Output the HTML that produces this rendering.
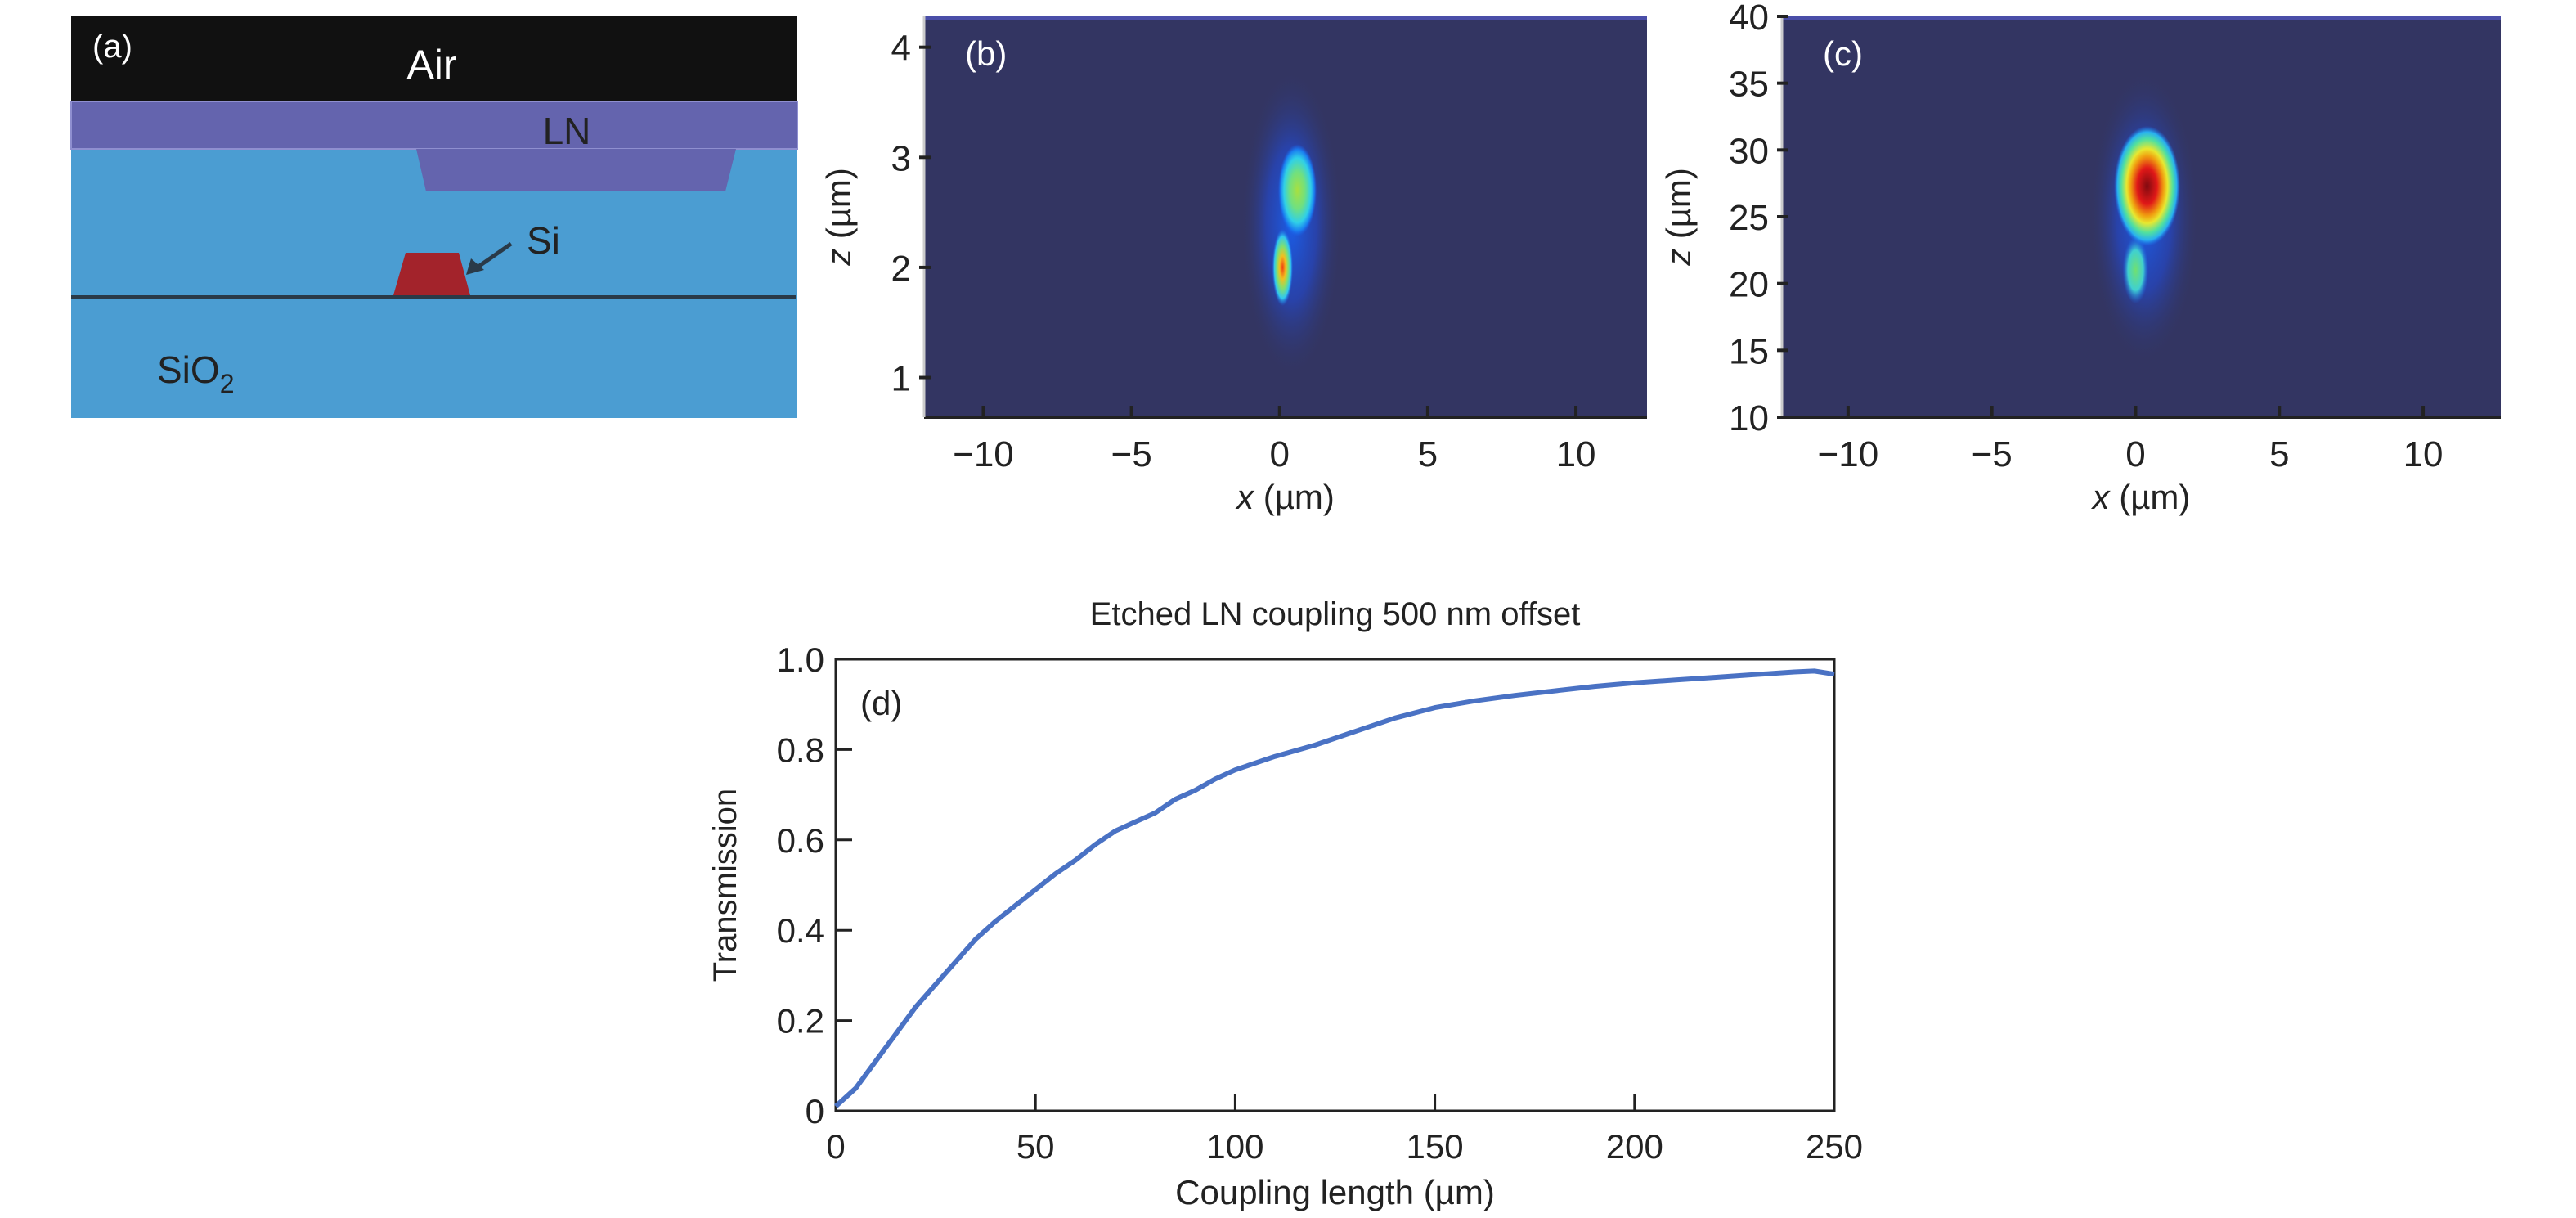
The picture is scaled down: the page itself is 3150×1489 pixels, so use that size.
<!DOCTYPE html>
<html><head><meta charset="utf-8">
<style>
html,body{margin:0;padding:0;background:#fff;}
svg{display:block;font-family:"Liberation Sans",sans-serif;}
</style></head>
<body>
<svg id="fig" width="3150" height="1489" viewBox="0 0 3150 1489" xmlns="http://www.w3.org/2000/svg">
<defs>
  <radialGradient id="gHalo"><stop offset="0" stop-color="#1a5ee8" stop-opacity="1"/><stop offset="0.5" stop-color="#2448c8" stop-opacity="0.7"/><stop offset="1" stop-color="#333562" stop-opacity="0"/></radialGradient>
  <radialGradient id="gGreen"><stop offset="0" stop-color="#a8e040"/><stop offset="0.4" stop-color="#70e080"/><stop offset="0.7" stop-color="#30d0e8"/><stop offset="0.88" stop-color="#1a7ef0"/><stop offset="1" stop-color="#1a5ee8" stop-opacity="0"/></radialGradient>
  <radialGradient id="gOrange"><stop offset="0" stop-color="#f04010"/><stop offset="0.3" stop-color="#f0c020"/><stop offset="0.55" stop-color="#80e070"/><stop offset="0.8" stop-color="#30c8f0"/><stop offset="1" stop-color="#1a6ef0" stop-opacity="0"/></radialGradient>
  <radialGradient id="gRed"><stop offset="0" stop-color="#800a10"/><stop offset="0.3" stop-color="#e01818"/><stop offset="0.5" stop-color="#f0a010"/><stop offset="0.62" stop-color="#e8e830"/><stop offset="0.78" stop-color="#50e0a0"/><stop offset="0.9" stop-color="#28b0f0"/><stop offset="1" stop-color="#1a6ef0" stop-opacity="0"/></radialGradient>
  <radialGradient id="gGreenC"><stop offset="0" stop-color="#70e070"/><stop offset="0.6" stop-color="#40d0d0"/><stop offset="1" stop-color="#1a6ef0" stop-opacity="0"/></radialGradient>
</defs>

<g>
  <rect x="87" y="20" width="888" height="104" fill="#111"/>
  <rect x="87" y="124" width="888" height="387" fill="#4b9dd2"/>
  <rect x="87" y="124" width="888" height="58" fill="#6464ae" stroke="#8f8fd0" stroke-width="2"/>
  <polygon points="509,182 900,182 887,234 521,234" fill="#6464ae"/>
  <rect x="87" y="361" width="886" height="4" fill="#2a3a48"/>
  <polygon points="496,309 561,309 575,361 481,361" fill="#a3232b"/>
  <line x1="625" y1="298" x2="582" y2="328" stroke="#2a3a48" stroke-width="5"/>
  <polygon points="570,336 576,316 592,330" fill="#2a3a48"/>
  <text x="113" y="70" font-size="40" fill="#fff">(a)</text>
  <text x="528" y="96" font-size="50" fill="#fff" text-anchor="middle">Air</text>
  <text x="693" y="176" font-size="46" fill="#222" text-anchor="middle">LN</text>
  <text x="644" y="310" font-size="46" fill="#222">Si</text>
  <text x="192" y="468" font-size="46" fill="#222">SiO<tspan font-size="32" dy="12">2</tspan></text>
</g>

<g id="panelB"></g>
<g id="panelC"></g>
<g id="panelD"></g>

<script>
var bXTicks = [-10, -5, 0, 5, 10];
var bZTicks = [1, 2, 3, 4];
var bBlobX = [0.4, 0.6, 0.1];
var bBlobZ = [2.4, 2.7, 2.0];
var bBlobRX = [1.7, 0.65, 0.35];
var bBlobRZ = [1.4, 0.42, 0.35];
var bBlobFill = ['gHalo', 'gGreen', 'gOrange'];
var cXTicks = [-10, -5, 0, 5, 10];
var cZTicks = [10, 15, 20, 25, 30, 35, 40];
var cBlobX = [0.3, 0.0, 0.4];
var cBlobZ = [25, 21, 27.3];
var cBlobRX = [1.9, 0.45, 1.15];
var cBlobRZ = [11, 2.5, 4.5];
var cBlobFill = ['gHalo', 'gGreenC', 'gRed'];
var dLength = [0,5,10,15,20,25,30,35,40,45,50,55,60,65,70,75,80,85,90,95,100,110,120,130,140,150,160,170,180,190,200,210,220,230,240,245,250];
var dTrans = [0.01,0.05,0.11,0.17,0.23,0.28,0.33,0.38,0.42,0.455,0.49,0.525,0.555,0.59,0.62,0.64,0.66,0.69,0.71,0.735,0.755,0.785,0.81,0.84,0.87,0.893,0.908,0.92,0.93,0.94,0.948,0.954,0.96,0.966,0.972,0.974,0.967];
var dXTicks = [0,50,100,150,200,250];
var dYTicks = [0,0.2,0.4,0.6,0.8,1.0];
var dYTickLabels = ['0','0.2','0.4','0.6','0.8','1.0'];

var NS = 'http://www.w3.org/2000/svg';
function mk(parent, tag, attrs, txt){
  var e = document.createElementNS(NS, tag);
  for (var k in attrs) e.setAttribute(k, attrs[k]);
  if (txt !== undefined) e.textContent = txt;
  parent.appendChild(e);
  return e;
}

function fieldPanel(g, L, R, T, B, xmin, xmax, zmin, zmax, xt, zt, bx, bz, brx, brz, bf, tag, wide){
  var sx = function(v){ return L + (v - xmin) / (xmax - xmin) * (R - L); };
  var sz = function(v){ return B - (v - zmin) / (zmax - zmin) * (B - T); };
  var bg = mk(g, 'rect', {x:L, y:T, width:R-L, height:B-T, fill:'#333562'});
  
  
  mk(g, 'rect', {x:L, y:T, width:R-L, height:4, fill:'#4a4ea8'});
  for (var i = 0; i < bx.length; i++){
    var el = mk(g, 'ellipse', {cx:sx(bx[i]), cy:sz(bz[i]), rx:brx[i]*(R-L)/(xmax-xmin), ry:brz[i]*(B-T)/(zmax-zmin), fill:'url(#'+bf[i]+')'});
    
    
  }
  mk(g, 'line', {x1:L, y1:B, x2:R, y2:B, stroke:'#222', 'stroke-width':4});
  mk(g, 'line', {x1:L, y1:T, x2:L, y2:B, stroke:'#ccc', 'stroke-width':3});
  xt.forEach(function(v){
    mk(g, 'line', {x1:sx(v), y1:B, x2:sx(v), y2:B-14, stroke:'#222', 'stroke-width':4});
    var t = mk(g, 'text', {x:sx(v), y:B+60, 'font-size':44, 'text-anchor':'middle', fill:'#222'}, v < 0 ? '\u2212' + (-v) : String(v));
    
    
  });
  zt.forEach(function(v){
    mk(g, 'line', {x1:L-6, y1:sz(v), x2:L+8, y2:sz(v), stroke:'#222', 'stroke-width':4});
    var t = mk(g, 'text', {x:L-16, y:sz(v)+16, 'font-size':44, 'text-anchor':'end', fill:'#222'}, String(v));
    
    
  });
  var lab = mk(g, 'text', {x:L+50, y:T+60, 'font-size':42, fill:'#fff'}, tag);
  
  
  var xl = mk(g, 'text', {x:(L+R)/2, y:B+112, 'font-size':42, 'text-anchor':'middle', fill:'#222'});
  
  
  mk(xl, 'tspan', {'font-style':'italic'}, 'x');
  mk(xl, 'tspan', {}, ' (\u00b5m)');
  var zx = L - (wide ? 112 : 90);
  var zy = (T+B)/2;
  var zl = mk(g, 'text', {x:zx, y:zy, 'font-size':42, 'text-anchor':'middle', fill:'#222', transform:'rotate(-90 '+zx+' '+zy+')'});
  
  
  mk(zl, 'tspan', {'font-style':'italic'}, 'z');
  mk(zl, 'tspan', {}, ' (\u00b5m)');
}

fieldPanel(document.getElementById('panelB'), 1130, 2014, 20, 510, -12.0, 12.4, 0.64, 4.28, bXTicks, bZTicks, bBlobX, bBlobZ, bBlobRX, bBlobRZ, bBlobFill, '(b)', false);
fieldPanel(document.getElementById('panelC'), 2179, 3058, 20, 510, -12.3, 12.7, 10, 40, cXTicks, cZTicks, cBlobX, cBlobZ, cBlobRX, cBlobRZ, cBlobFill, '(c)', true);

(function(){
  var g = document.getElementById('panelD');
  var L = 1022, R = 2243, T = 806, B = 1358;
  var sx = function(v){ return L + v / 250 * (R - L); };
  var sy = function(v){ return B - v * (B - T); };
  var title = mk(g, 'text', {x:(L+R)/2, y:764, 'font-size':40, 'text-anchor':'middle', fill:'#222'}, 'Etched LN coupling 500 nm offset');
  
  
  var frame = mk(g, 'rect', {x:L, y:T, width:R-L, height:B-T, fill:'none', stroke:'#222', 'stroke-width':3});
  
  
  dXTicks.forEach(function(v){
    mk(g, 'line', {x1:sx(v), y1:B, x2:sx(v), y2:B-20, stroke:'#222', 'stroke-width':3});
    var t = mk(g, 'text', {x:sx(v), y:B+58, 'font-size':42, 'text-anchor':'middle', fill:'#222'}, String(v));
    
    
  });
  dYTicks.forEach(function(v, i){
    mk(g, 'line', {x1:L, y1:sy(v), x2:L+20, y2:sy(v), stroke:'#222', 'stroke-width':3});
    var t = mk(g, 'text', {x:L-14, y:sy(v)+15, 'font-size':42, 'text-anchor':'end', fill:'#222'}, dYTickLabels[i]);
    
    
  });
  var d = '';
  for (var i = 0; i < dLength.length; i++) d += (i ? 'L' : 'M') + sx(dLength[i]).toFixed(1) + ',' + sy(dTrans[i]).toFixed(1);
  var line = mk(g, 'path', {d:d, fill:'none', stroke:'#4a72c4', 'stroke-width':6, 'stroke-linejoin':'round'});
  
  
  var pl = mk(g, 'text', {x:L+30, y:T+68, 'font-size':42, fill:'#222'}, '(d)');
  
  
  var xl = mk(g, 'text', {x:(L+R)/2, y:1472, 'font-size':42, 'text-anchor':'middle', fill:'#222'}, 'Coupling length (\u00b5m)');
  
  
  var yl = mk(g, 'text', {x:900, y:1082, 'font-size':40, 'text-anchor':'middle', fill:'#222', transform:'rotate(-90 900 1082)'}, 'Transmission');
  
  
})();
</script>
</svg>
</body></html>
